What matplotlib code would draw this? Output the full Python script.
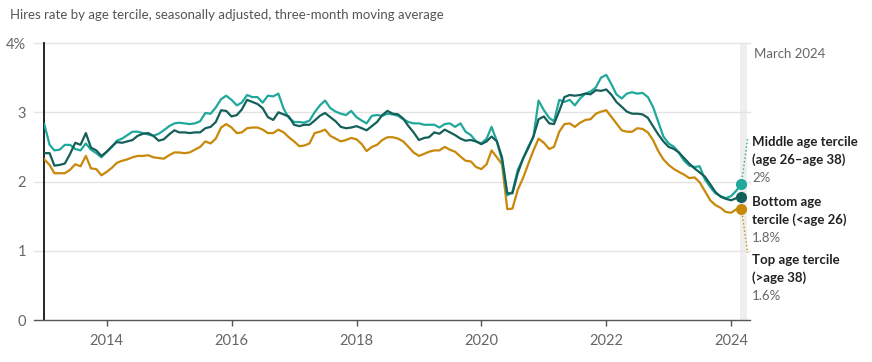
import matplotlib
matplotlib.use("Agg")
import matplotlib.pyplot as plt
import matplotlib.dates as mdates
import pandas as pd

plt.rcParams['font.family'] = ['Lato', 'DejaVu Sans']

# monthly, Jan 2013 - Mar 2024
months = pd.date_range("2013-01-01", "2024-03-01", freq="MS")

middle = [2.83, 2.53, 2.45, 2.46, 2.53, 2.53, 2.47, 2.45, 2.55, 2.46, 2.41, 2.35, 2.43, 2.50, 2.59, 2.62,
          2.67, 2.72, 2.72, 2.70, 2.68, 2.66, 2.69, 2.74, 2.80, 2.84, 2.85, 2.84, 2.83, 2.84, 2.87, 2.99,
          2.98, 3.07, 3.19, 3.24, 3.18, 3.10, 3.14, 3.25, 3.22, 3.22, 3.14, 3.24, 3.23, 3.27, 3.05, 2.92,
          2.86, 2.86,
          2.85, 2.88, 3.00, 3.10, 3.17, 3.06, 3.01, 2.98, 2.96, 3.02, 2.93, 2.88, 2.84, 2.95, 2.96, 2.95,
          2.98, 2.97, 2.95, 2.90, 2.86, 2.84, 2.84, 2.82, 2.82, 2.82, 2.78, 2.83, 2.84, 2.79, 2.84, 2.72,
          2.67, 2.58, 2.55, 2.62, 2.79, 2.58,
          2.30, 1.80, 1.85, 2.17, 2.33, 2.50, 2.65, 3.17, 3.03, 2.92, 2.87, 3.18, 3.15, 3.18, 3.10, 3.20,
          3.27, 3.30, 3.36, 3.50, 3.54, 3.40,
          3.26, 3.20, 3.27, 3.29, 3.27, 3.28, 3.22, 3.08, 2.86, 2.65, 2.55, 2.50, 2.42, 2.30, 2.23, 2.21,
          2.22, 2.03, 1.92, 1.83, 1.79, 1.76, 1.79, 1.87, 1.96]

bottom = [2.41, 2.41, 2.23, 2.24, 2.26, 2.40, 2.56, 2.53, 2.70, 2.49, 2.45, 2.37, 2.43, 2.51, 2.57, 2.56,
          2.58, 2.60, 2.66, 2.69, 2.70, 2.66, 2.59, 2.61, 2.68, 2.74, 2.71, 2.71, 2.70, 2.71, 2.71, 2.77,
          2.79, 2.86, 3.03, 3.02, 2.94, 2.96, 3.04, 3.18, 3.15, 3.12, 3.06, 2.93, 2.89, 3.00, 2.97, 2.94,
          2.82, 2.80,
          2.82, 2.82, 2.88, 2.95, 2.99, 2.93, 2.87, 2.79, 2.77, 2.78, 2.80, 2.77, 2.74, 2.80, 2.86, 2.96,
          3.02, 2.98, 2.97, 2.91, 2.80, 2.71, 2.60, 2.63, 2.64, 2.71, 2.69, 2.75, 2.71, 2.67, 2.62, 2.59,
          2.60, 2.58, 2.54, 2.58, 2.65, 2.58,
          2.35, 1.83, 1.83, 2.12, 2.33, 2.48, 2.65, 2.90, 2.94, 2.84, 2.83, 3.02, 3.22, 3.25, 3.24, 3.25,
          3.27, 3.26, 3.32, 3.31, 3.33, 3.25,
          3.15, 3.08, 3.01, 2.98, 2.98, 2.97, 2.92, 2.80, 2.68, 2.58, 2.50, 2.47, 2.42, 2.34, 2.26, 2.19,
          2.13, 2.07, 1.96, 1.85, 1.78, 1.75, 1.73, 1.76, 1.77]

top = [2.32, 2.24, 2.12, 2.12, 2.12, 2.17, 2.25, 2.22, 2.37, 2.19, 2.18, 2.09, 2.14, 2.20, 2.27, 2.30,
       2.32, 2.35, 2.37, 2.37, 2.38, 2.35, 2.34, 2.33, 2.38, 2.42, 2.42, 2.41, 2.42, 2.46, 2.50, 2.58,
       2.55, 2.62, 2.78, 2.83, 2.78, 2.70, 2.71, 2.77, 2.78, 2.78, 2.75, 2.70, 2.70, 2.75, 2.71, 2.64,
       2.58, 2.51,
       2.52, 2.55, 2.70, 2.72, 2.75, 2.66, 2.62, 2.58, 2.60, 2.63, 2.61, 2.54, 2.44, 2.50, 2.53, 2.60,
       2.64, 2.64, 2.62, 2.58, 2.50, 2.42, 2.37, 2.40, 2.43, 2.45, 2.45, 2.50, 2.46, 2.43, 2.36, 2.30,
       2.29, 2.21, 2.18, 2.25, 2.45, 2.35,
       2.25, 1.60, 1.61, 1.88, 2.05, 2.25, 2.45, 2.62, 2.56, 2.47, 2.50, 2.72, 2.83, 2.84, 2.79, 2.85,
       2.89, 2.90, 2.98, 3.01, 3.03, 2.93,
       2.84, 2.74, 2.72, 2.72, 2.77, 2.76, 2.71, 2.60, 2.44, 2.32, 2.24, 2.18, 2.14, 2.10, 2.05, 2.06,
       1.99, 1.86, 1.73, 1.66, 1.62, 1.56, 1.55, 1.60, 1.61]

series_labels = ["Middle age tercile\n(age 26\u2013age 38)", "Bottom age\ntercile (<age 26)",
                 "Top age tercile\n(>age 38)"]
end_labels = ["2%", "1.8%", "1.6%"]
yticks = [0, 1, 2, 3, 4]
ytick_labels = ["0", "1", "2", "3", "4%"]
xtick_years = [2014, 2016, 2018, 2020, 2022, 2024]

c_mid = "#1fa89b"
c_bot = "#145f59"
c_top = "#c8880a"
grey = "#666666"

fig = plt.figure(figsize=(8.72, 3.62), dpi=100)
ax = fig.add_axes([0.0508, 0.116, 0.8092, 0.765])

# March 2024 highlight band
ax.axvspan(pd.Timestamp("2024-02-20"), pd.Timestamp("2024-04-01"), color="#eeeeee", zorder=0, lw=0)

for y in yticks[1:]:
    ax.axhline(y, xmin=-0.014, xmax=1, color="#e4e4e4", lw=1, clip_on=False, zorder=1)
ax.axhline(0, xmin=-0.014, xmax=1, color="#555555", lw=1, clip_on=False, zorder=3)

ax.plot(months, top, color=c_top, lw=1.6, zorder=4)
ax.plot(months, middle, color=c_mid, lw=1.6, zorder=5)
ax.plot(months, bottom, color=c_bot, lw=1.6, zorder=6)

last = months[-1]
ax.plot([last], [middle[-1]], "o", color=c_mid, ms=7, zorder=7, clip_on=False)
ax.plot([last], [bottom[-1]], "o", color=c_bot, ms=7, zorder=7, clip_on=False)
ax.plot([last], [top[-1]], "o", color=c_top, ms=7, zorder=7, clip_on=False)

# dotted leaders to labels
lead_x = pd.Timestamp("2024-04-07")
ax.plot([last, lead_x], [middle[-1], 2.63], ls=":", color=c_mid, lw=1, clip_on=False)
ax.plot([last, lead_x], [top[-1], 0.97], ls=":", color=c_top, lw=1, clip_on=False)

ax.set_xlim(pd.Timestamp("2013-01-01"), pd.Timestamp("2024-04-20"))
ax.set_ylim(0, 4)

ax.set_yticks(yticks)
ax.set_yticklabels(ytick_labels)
ax.set_xticks([pd.Timestamp(f"{y}-01-01") for y in xtick_years])
ax.xaxis.set_major_formatter(mdates.DateFormatter("%Y"))
ax.tick_params(axis="y", length=0, pad=13, labelsize=10.5, labelcolor=grey)
ax.tick_params(axis="x", length=4, width=1, color="#555555", pad=6, labelsize=10.5, labelcolor=grey)

for s in ["top", "right", "bottom"]:
    ax.spines[s].set_visible(False)
ax.spines["left"].set_color("black")
ax.spines["left"].set_linewidth(1.2)

fig.text(10 / 872, 1 - 15 / 362, "Hires rate by age tercile, seasonally adjusted, three-month moving average",
         fontsize=9.5, color="#555555", va="center", ha="left")
fig.text(754 / 872, 1 - 54 / 362, "March 2024", fontsize=9.5, color=grey, va="center", ha="left")

label_y = [142, 202, 260]
for lab, val, ypx in zip(series_labels, end_labels, label_y):
    fig.text(752 / 872, 1 - (ypx - 6) / 362, lab, fontsize=9.5, fontweight="bold", color="#222222",
             va="top", ha="left", linespacing=1.55)
    fig.text(752 / 872, 1 - (ypx + 36) / 362, val, fontsize=9.5, color=grey, va="center", ha="left")

fig.savefig("out.png", dpi=100)
